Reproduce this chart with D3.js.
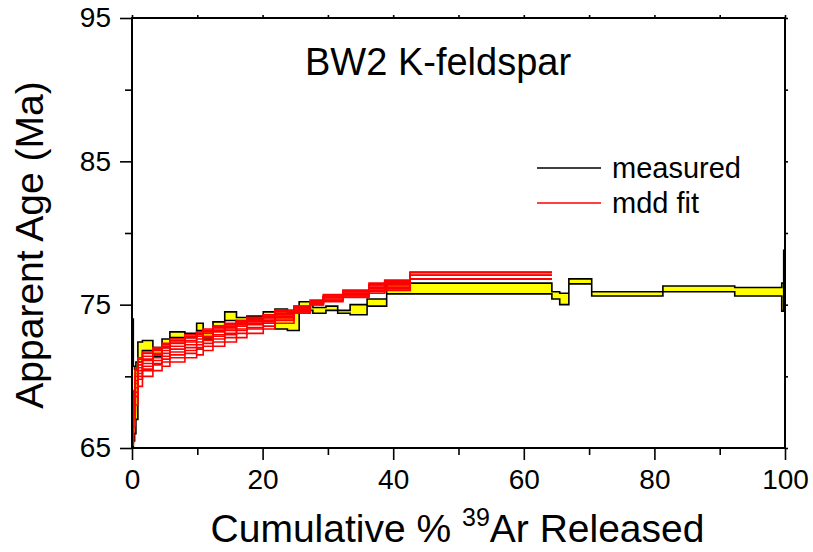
<!DOCTYPE html>
<html>
<head>
<meta charset="utf-8">
<script src="https://cdn.jsdelivr.net/npm/d3@7"></script>
<style>
  body { margin: 0; background: #fff; }
  text { font-family: "Liberation Sans", Arial, sans-serif; fill: #000; }
</style>
</head>
<body>
<div id="chart"></div>
<script>
// ---- DATA ----
// measured age spectrum: step edges (cumulative % 39Ar) and age error box (Ma)
var measEdges = [0, 0.2, 0.4, 0.6, 0.9, 1.6, 3.2, 4.6, 5.8, 8.1, 9.9, 10.9, 12.4, 14.2, 16.0, 17.6,
                 20.1, 21.9, 23.8, 25.6, 27.7, 29.7, 31.5, 33.4, 36.0, 39.0, 64.3, 65.5, 66.9,
                 70.4, 81.3, 92.3, 99.5, 99.8, 100];
var measLo = [65.0, 65.5, 66.0, 67.0, 71.0, 71.8, 71.4, 72.0, 72.7, 72.7, 73.2, 72.6, 73.5, 73.9, 73.7,
              74.0, 74.1, 73.3, 73.2, 74.6, 74.4, 74.6, 74.4, 74.3, 74.9, 75.75, 75.4, 75.0,
              76.45, 75.6, 75.9, 75.6, 74.55, 77.6];
var measHi = [74.0, 70.7, 70.5, 71.0, 72.4, 72.5, 72.0, 72.6, 73.1, 73.0, 73.7, 73.2, 73.8, 74.5, 74.1,
              74.2, 74.5, 74.7, 74.5, 75.2, 74.8, 74.9, 74.6, 75.0, 75.4, 76.5, 75.9, 75.8,
              76.8, 75.9, 76.3, 76.2, 76.5, 78.8];

// mdd model fits: shared step edges, one age list per fit
var fitEdges = [0, 0.2, 0.5, 0.9, 1.6, 3.2, 4.6, 5.8, 8.1, 9.9, 10.9, 12.4, 14.2, 16.0, 17.6,
                20.1, 21.9, 24.8, 27.3, 29.3, 32.3, 36.3, 38.7, 42.6, 64.3];
var fit1  = [66.0, 69.0, 70.6, 71.3, 71.7, 72.0, 72.3, 72.6, 72.9, 73.1, 73.3, 73.5, 73.7, 73.9, 74.1, 74.3, 74.6, 74.9, 75.3, 75.7, 76.0, 76.5, 76.7, 77.25];
var fit2  = [65.9, 68.8, 70.4, 71.2, 71.6, 71.9, 72.2, 72.5, 72.8, 73.0, 73.2, 73.4, 73.6, 73.9, 74.1, 74.3, 74.6, 74.9, 75.3, 75.6, 76.0, 76.4, 76.7, 77.25];
var fit3  = [65.8, 68.5, 70.2, 71.0, 71.4, 71.8, 72.1, 72.4, 72.7, 72.9, 73.1, 73.3, 73.5, 73.8, 74.0, 74.2, 74.5, 74.8, 75.2, 75.6, 75.9, 76.4, 76.6, 77.25];
var fit4  = [65.7, 68.2, 70.0, 70.8, 71.2, 71.6, 72.0, 72.3, 72.5, 72.8, 73.0, 73.2, 73.4, 73.7, 73.9, 74.1, 74.4, 74.8, 75.2, 75.5, 75.9, 76.3, 76.5, 77.05];
var fit5  = [65.6, 68.0, 69.7, 70.6, 71.1, 71.5, 71.8, 72.1, 72.4, 72.6, 72.8, 73.1, 73.3, 73.6, 73.8, 74.0, 74.3, 74.7, 75.1, 75.5, 75.8, 76.2, 76.5, 77.05];
var fit6  = [65.5, 67.8, 69.5, 70.4, 70.9, 71.3, 71.6, 71.9, 72.2, 72.4, 72.7, 72.9, 73.2, 73.5, 73.7, 73.9, 74.2, 74.7, 75.1, 75.5, 75.8, 76.2, 76.4, 77.05];
var fit7  = [65.5, 67.6, 69.2, 70.2, 70.7, 71.1, 71.4, 71.7, 72.0, 72.2, 72.5, 72.8, 73.0, 73.3, 73.6, 73.8, 74.1, 74.6, 75.1, 75.4, 75.7, 76.1, 76.3, 76.8];
var fit8  = [65.4, 67.3, 68.9, 70.0, 70.5, 70.9, 71.2, 71.5, 71.8, 72.0, 72.3, 72.6, 72.9, 73.2, 73.4, 73.7, 74.0, 74.5, 75.0, 75.3, 75.6, 76.0, 76.2, 76.8];
var fit9  = [65.3, 67.0, 68.6, 69.8, 70.4, 70.8, 71.0, 71.3, 71.6, 71.9, 72.1, 72.4, 72.7, 73.0, 73.3, 73.5, 73.9, 74.5, 75.0, 75.3, 75.6, 75.9, 76.1, 76.8];
var fit10 = [65.2, 66.5, 68.0, 69.3, 70.0, 70.4, 70.7, 71.0, 71.3, 71.5, 71.8, 72.1, 72.4, 72.7, 73.0, 73.3, 73.7, 74.4, 75.0, 75.2, 75.5, 75.8, 76.0, 76.8];
var fits = [fit1, fit2, fit3, fit4, fit5, fit6, fit7, fit8, fit9, fit10];

var xTicks = [0, 20, 40, 60, 80, 100];
var xMinor = [10, 30, 50, 70, 90];
var yTicks = [65, 75, 85, 95];
var yMinor = [70, 80, 90];

// ---- SETUP ----
var W = 813, H = 552;
var margin = {left: 132, right: 28, top: 18, bottom: 104};
var width = W - margin.left - margin.right,
    height = H - margin.top - margin.bottom;

var svg = d3.select("#chart").append("svg")
    .attr("width", W)
    .attr("height", H);

var g = svg.append("g").attr("transform", "translate(" + margin.left + "," + margin.top + ")");

var x = d3.scaleLinear().domain([0, 100]).range([0, width]);
var y = d3.scaleLinear().domain([65, 95]).range([height, 0]);

// step points: one per edge, last edge repeats the last value
function steps(edges, lo, hi) {
  return edges.map(function(e, i) {
    var k = Math.min(i, lo.length - 1);
    return {x: e, lo: lo[k], hi: hi ? hi[k] : lo[k]};
  });
}

var plot = g.append("g");

// ---- MEASURED BOXES ----
var area = d3.area()
    .curve(d3.curveStepAfter)
    .x(function(d) { return x(d.x); })
    .y0(function(d) { return y(d.lo); })
    .y1(function(d) { return y(d.hi); });

var meas = steps(measEdges, measLo, measHi);

// fill each box on its own so that non-overlapping neighbours stay separate
for (var i = 0; i < measLo.length; i++) {
  plot.append("path")
      .datum([meas[i], {x: measEdges[i + 1], lo: measLo[i], hi: measHi[i]}])
      .attr("d", area)
      .attr("fill", "#ffff00")
      .attr("stroke", "none");
}
plot.append("path")
    .datum(meas)
    .attr("d", area)
    .attr("fill", "none")
    .attr("stroke", "#000")
    .attr("stroke-width", 1.6);

// ---- MDD FITS ----
var line = d3.line()
    .curve(d3.curveStepAfter)
    .x(function(d) { return x(d.x); })
    .y(function(d) { return y(d.lo); });

fits.forEach(function(f) {
  plot.append("path")
      .datum(steps(fitEdges, f))
      .attr("d", line)
      .attr("fill", "none")
      .attr("stroke", "#ff0000")
      .attr("stroke-width", 1.6);
});

// ---- AXES ----
function axisLines(sel) {
  sel.select(".domain").remove();
  sel.selectAll("line").attr("stroke", "#000").attr("stroke-width", 1.6);
}

g.append("g")
    .attr("transform", "translate(0," + height + ")")
    .call(d3.axisBottom(x).tickValues(xMinor).tickSize(7).tickFormat(""))
    .call(axisLines);
g.append("g")
    .attr("transform", "translate(0," + height + ")")
    .call(d3.axisBottom(x).tickValues(xTicks).tickSize(12).tickPadding(9).tickFormat(d3.format("d")))
    .call(axisLines)
    .selectAll("text").style("font-size", "28px").attr("fill", "#000");

g.append("g")
    .call(d3.axisLeft(y).tickValues(yMinor).tickSize(7).tickFormat(""))
    .call(axisLines);
g.append("g")
    .call(d3.axisLeft(y).tickValues(yTicks).tickSize(12).tickPadding(9).tickFormat(d3.format("d")))
    .call(axisLines)
    .selectAll("text").style("font-size", "28px").attr("fill", "#000");

g.append("g")
    .call(d3.axisTop(x).tickValues(xTicks.concat(xMinor)).tickSize(3).tickFormat(""))
    .call(axisLines);
g.append("g")
    .attr("transform", "translate(" + width + ",0)")
    .call(d3.axisRight(y).tickValues(yTicks.concat(yMinor)).tickSize(3).tickFormat(""))
    .call(axisLines);

g.append("rect")
    .attr("width", width)
    .attr("height", height)
    .attr("fill", "none")
    .attr("stroke", "#000")
    .attr("stroke-width", 2);

// ---- TEXT ----
g.append("text")
    .attr("x", 305 - margin.left)
    .attr("y", 75 - margin.top)
    .style("font-size", "38px")
    .text("BW2 K-feldspar");

svg.append("text")
    .attr("transform", "translate(43,245) rotate(-90)")
    .attr("text-anchor", "middle")
    .style("font-size", "39px")
    .text("Apparent Age (Ma)");

var xt = svg.append("text")
    .attr("x", margin.left + width / 2 - 1)
    .attr("y", 542)
    .attr("text-anchor", "middle")
    .style("font-size", "39px");
xt.append("tspan").text("Cumulative % ");
xt.append("tspan").attr("dy", -16).style("font-size", "25px").text("39");
xt.append("tspan").attr("dy", 16).text("Ar Released");

// ---- LEGEND ----
var legend = [{name: "measured", color: "#000"}, {name: "mdd fit", color: "#ff0000"}];
var lg = svg.selectAll(".legend")
    .data(legend)
    .enter().append("g")
    .attr("class", "legend")
    .attr("transform", function(d, i) { return "translate(537," + (168 + i * 35) + ")"; });
lg.append("line")
    .attr("x1", 0).attr("x2", 64)
    .attr("stroke", function(d) { return d.color; })
    .attr("stroke-width", 1.6);
lg.append("text")
    .attr("x", 75)
    .attr("dy", "0.35em")
    .style("font-size", "29px")
    .text(function(d) { return d.name; });
</script>
</body>
</html>
